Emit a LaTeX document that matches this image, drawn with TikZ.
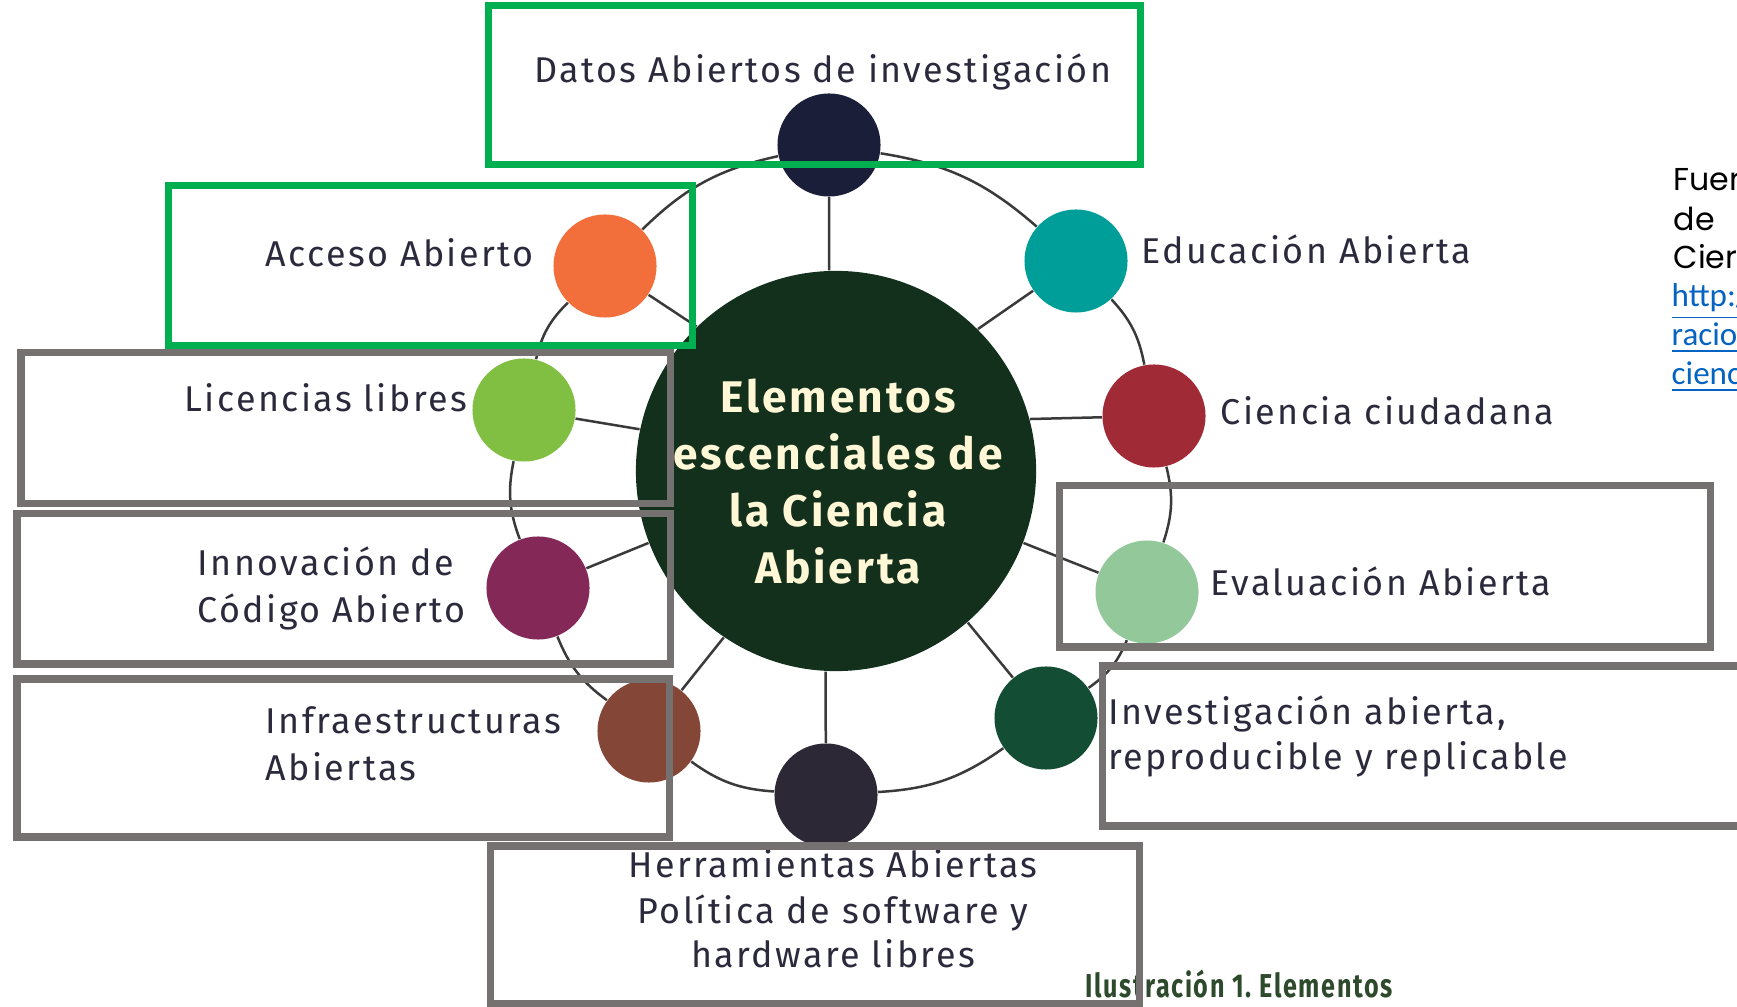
\documentclass[tikz,border=0pt]{standalone}
\usepackage{fontspec}
\setmainfont{Fira Sans}[LetterSpace=6.7]
\newfontfamily\fuentefont{Poppins}
\newfontfamily\linkfont{Carlito}

\definecolor{labelink}{HTML}{2B2A3D}
\definecolor{hubgreen}{HTML}{12301C}
\definecolor{hubcream}{HTML}{FFF7D6}
\definecolor{linegray}{HTML}{3A3A3A}
\definecolor{boxgreen}{HTML}{00B050}
\definecolor{boxgray}{HTML}{767171}
\definecolor{capgreen}{HTML}{2E4A2C}
\definecolor{linkblue}{HTML}{0563C1}
\definecolor{dotnavy}{HTML}{1B1E38}
\definecolor{dotteal}{HTML}{009E99}
\definecolor{dotred}{HTML}{A12A37}
\definecolor{dotmint}{HTML}{93C89B}
\definecolor{dotforest}{HTML}{134D33}
\definecolor{dotnight}{HTML}{2C2836}
\definecolor{dotbrown}{HTML}{844636}
\definecolor{dotplum}{HTML}{832857}
\definecolor{dotlime}{HTML}{80BF42}
\definecolor{dotorange}{HTML}{F26E3A}

\begin{document}
\begin{tikzpicture}[x=0.01cm, y=-0.01cm, font={\fontsize{10.2}{12}\selectfont},
every node/.style={text=labelink},
dot/.style={circle, inner sep=0 pt, minimum size=1.03cm},
lbl/.style={anchor=base west, inner sep=0 pt},
clbl/.style={anchor=base, inner sep=0 pt},
greenbox/.style={draw=boxgreen, line width=0.07cm},
graybox/.style={draw=boxgray, line width=0.07cm},
]

\clip (0,0) rectangle (1737,1007);

\path
(836,471) node[circle, fill=hubgreen, minimum size=4cm] (hub) {}
(829,145) node[dot, fill=dotnavy] (e0) {}
(1076,261) node[dot, fill=dotteal] (e1) {}
(1154,416) node[dot, fill=dotred] (e2) {}
(1147,592) node[dot, fill=dotmint] (e3) {}
(1046,718) node[dot, fill=dotforest] (e4) {}
(826,795) node[dot, fill=dotnight] (e5) {}
(649,731) node[dot, fill=dotbrown] (e6) {}
(538,588) node[dot, fill=dotplum] (e7) {}
(524,410) node[dot, fill=dotlime] (e8) {}
(605,266) node[dot, fill=dotorange] (e9) {}
;

\node[text=hubcream, align=center, font={\fontsize{12.6}{16.2}\selectfont\bfseries}]
(hubtext) at (838,482) {Elementos\\escenciales de\\la Ciencia\\Abierta};

% ring and spokes
\begin{scope}[line width=0.025cm, draw=linegray]

\draw (e0) to[bend left=16] (e1);
\draw (e1) to[bend left=16] (e2);
\draw (e2) to[bend left=16] (e3);
\draw (e3) to[bend left=16] (e4);
\draw (e4) to[bend left=16] (e5);
\draw (e5) to[bend left=16] (e6);
\draw (e6) to[bend left=16] (e7);
\draw (e7) to[bend left=16] (e8);
\draw (e8) to[bend left=16] (e9);
\draw (e9) to[bend left=16] (e0);

\draw (hub.92) -- (e0);
\draw (hub.45) -- (e1);
\draw (hub.15) -- (e2);
\draw (hub.-21) -- (e3);
\draw (hub.-49) -- (e4);
\draw (hub.-93) -- (e5);
\draw (hub.-124) -- (e6);
\draw (hub.-159) -- (e7);
\draw (hub.168) -- (e8);
\draw (hub.134) -- (e9);

\end{scope}

% labels
\path
(823,83) node[clbl] (t0) {Datos Abiertos de investigación}
(1141,264) node[lbl] (t1) {Educación Abierta}
(1220,425) node[lbl] (t2) {Ciencia ciudadana}
(1210,596) node[lbl] (t3) {Evaluación Abierta}
(1108,725) node[lbl] (t4) {Investigación abierta,}
(1108,770) node[lbl] (t4b) {reproducible y replicable}
(833,877) node[clbl] (t5) {Herramientas Abiertas}
(833,923) node[clbl] (t5b) {Política de software y}
(833,967) node[clbl] (t5c) {hardware libres}
(265,734) node[lbl] (t6) {Infraestructuras}
(265,781) node[lbl] (t6b) {Abiertas}
(197,576) node[lbl] (t7) {Innovación de}
(197,623) node[lbl] (t7b) {Código Abierto}
(184,412) node[lbl] (t8) {Licencias libres}
(265,267) node[lbl] (t9) {Acceso Abierto}
;

\node[lbl, text=capgreen, font={\fontsize{9.4}{11}\selectfont\bfseries}] (caption) at (1085,997)
{\scalebox{0.76}[1]{Ilustración 1.\ Elementos}};

% source note, cut by the page edge
\path[font={\fuentefont\fontsize{9}{11}\selectfont}]
(1673,191) node[lbl, text=black] (f0) {Fuer}
(1673,231) node[lbl, text=black] (f1) {de}
(1673,269) node[lbl, text=black] (f2) {Cier}
;
\path[font={\linkfont\fontsize{9.4}{11}\selectfont}]
(1671,307) node[lbl, text=linkblue] (f3) {\underline{http:/}}
(1671,346) node[lbl, text=linkblue] (f4) {\underline{racio}}
(1671,385) node[lbl, text=linkblue] (f5) {\underline{cienc}}
;

% frames
\draw[greenbox] (488,6) rectangle (1140,165);
\draw[greenbox] (168,186) rectangle (692,346);
\draw[graybox] (21,353) rectangle (670,504);
\draw[graybox] (17,514) rectangle (670,664);
\draw[graybox] (17,679) rectangle (669,837);
\draw[graybox] (490,846) rectangle (1139,1003);
\draw[graybox] (1059,486) rectangle (1710,647);
\draw[graybox] (1102,666) rectangle (1780,826);

\end{tikzpicture}
\end{document}
